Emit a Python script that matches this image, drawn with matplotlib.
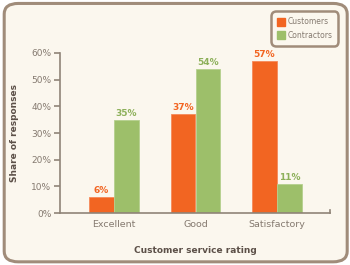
import matplotlib.pyplot as plt
from matplotlib.patches import FancyBboxPatch
from matplotlib.lines import Line2D
import numpy as np

# Survey data
ratings = ['Excellent', 'Good', 'Satisfactory']
customers = [6, 37, 57]
contractors = [35, 54, 11]

orange = '#F26522'
green = '#9DBF6A'
cream = '#FBF7EE'
frame_col = '#A08C7A'
axis_col = '#8F8478'
text_col = '#857A70'
label_col = '#5C5048'

fig = plt.figure(figsize=(3.5, 2.65), dpi=100)
fig.patch.set_facecolor('white')

# Rounded background frame
frame = FancyBboxPatch((0.012, 0.012), 0.98, 0.975,
                       boxstyle='round,pad=0,rounding_size=0.04',
                       transform=fig.transFigure, facecolor=cream,
                       edgecolor=frame_col, linewidth=2.2, zorder=-5)
fig.patches.append(frame)

ax = fig.add_axes([0.171, 0.196, 0.772, 0.604])
ax.set_facecolor('none')
ax.set_zorder(2)

x = np.arange(len(ratings))
w = 0.3
b1 = ax.bar(x - w / 2 - 0.005, customers, w, color=orange, edgecolor='#F58A5A', linewidth=0.6)
b2 = ax.bar(x + w / 2 + 0.005, contractors, w, color=green, edgecolor='#B5D08E', linewidth=0.6)

for rect, v in zip(b1, customers):
    ax.text(rect.get_x() + rect.get_width() / 2, v + 0.8, f'{v}%',
            ha='center', va='bottom', color=orange, fontsize=6.5, fontweight='bold')
for rect, v in zip(b2, contractors):
    ax.text(rect.get_x() + rect.get_width() / 2, v + 0.8, f'{v}%',
            ha='center', va='bottom', color='#8DB05A', fontsize=6.5, fontweight='bold')

ax.set_xlim(-0.663, 2.65)
ax.set_ylim(0, 60)
ax.set_yticks(range(0, 61, 10))
ax.set_yticklabels([f'{t}%' for t in range(0, 61, 10)])
ax.set_xticks(x)
ax.set_xticklabels(ratings)

for s in ['top', 'right']:
    ax.spines[s].set_visible(False)
for s in ['left', 'bottom']:
    ax.spines[s].set_color(axis_col)
    ax.spines[s].set_linewidth(1.2)
ax.tick_params(axis='y', colors=axis_col, labelcolor=text_col, labelsize=6.5,
               length=4, width=1.2, pad=2)
ax.tick_params(axis='x', length=0, labelcolor=text_col, labelsize=6.8, pad=5)

# small upturned end of the x axis
ax.plot([2.65, 2.65], [0, 1.2], color=axis_col, lw=1.2, clip_on=False)

ax.set_ylabel('Share of responses', fontsize=6.5, fontweight='bold',
              color=label_col, labelpad=9)
ax.set_xlabel('Customer service rating', fontsize=6.5, fontweight='bold',
              color=label_col, labelpad=12)

# Legend
handles = [Line2D([], [], marker='s', linestyle='', markersize=6,
                  markerfacecolor=orange, markeredgecolor=orange),
           Line2D([], [], marker='s', linestyle='', markersize=6,
                  markerfacecolor=green, markeredgecolor=green)]
leg = fig.legend(handles, ['Customers', 'Contractors'], loc='upper right',
                 bbox_to_anchor=(0.978, 0.972), fontsize=5.5, frameon=True,
                 fancybox=True, handletextpad=0.3, borderpad=0.8,
                 labelspacing=0.55, handlelength=1.0, labelcolor=text_col)
leg.get_frame().set_edgecolor(frame_col)
leg.get_frame().set_linewidth(1.8)
leg.get_frame().set_facecolor(cream)
leg.get_frame().set_alpha(1)
leg.get_frame().set_boxstyle('round,pad=0,rounding_size=0.6')

fig.savefig('out.png', dpi=100, facecolor='white')
